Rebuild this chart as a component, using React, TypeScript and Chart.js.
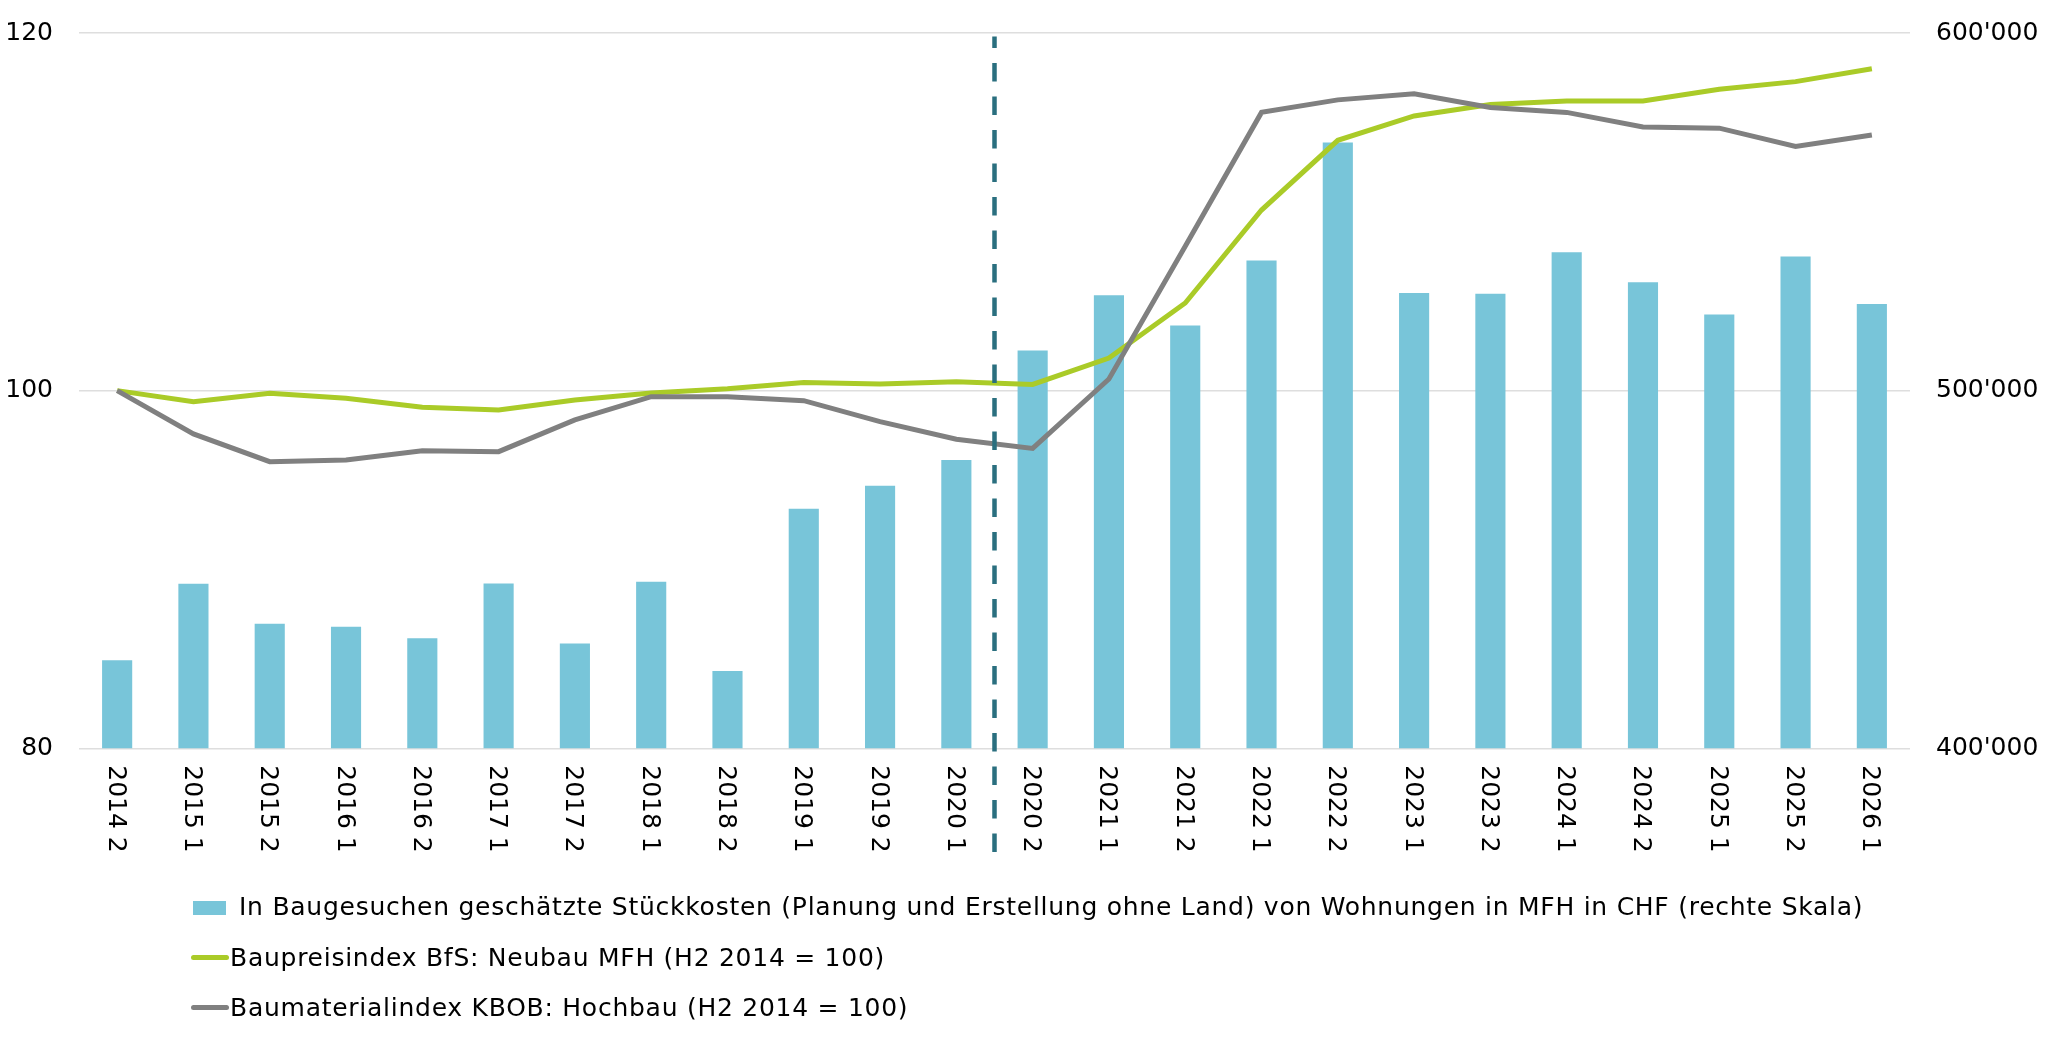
import { useEffect, useRef } from 'react';
import { Chart, registerables } from 'chart.js';

Chart.register(...registerables);

// Halbjahre (Jahr + Semester)
const periods = [
  '2014 2', '2015 1', '2015 2', '2016 1', '2016 2', '2017 1', '2017 2', '2018 1',
  '2018 2', '2019 1', '2019 2', '2020 1', '2020 2', '2021 1', '2021 2', '2022 1',
  '2022 2', '2023 1', '2023 2', '2024 1', '2024 2', '2025 1', '2025 2', '2026 1',
];

// Stückkosten in CHF (rechte Skala)
const unitCosts = [
  424600, 446000, 434800, 434000, 430800, 446100, 429300, 446600,
  421600, 467000, 473400, 480600, 511200, 526700, 518200, 536400,
  569400, 527300, 527100, 538700, 530300, 521300, 537500, 524200,
];

// Baupreisindex BfS (H2 2014 = 100)
const baupreisIndex = [
  100.0, 99.38, 99.85, 99.57, 99.07, 98.92, 99.48, 99.87,
  100.1, 100.45, 100.37, 100.5, 100.35, 101.82, 104.9, 110.1,
  114.0, 115.36, 116.0, 116.2, 116.2, 116.85, 117.28, 118.0,
];

// Baumaterialindex KBOB (H2 2014 = 100)
const baumaterialIndex = [
  100.0, 97.58, 96.03, 96.12, 96.64, 96.59, 98.36, 99.66,
  99.66, 99.44, 98.27, 97.28, 96.77, 100.65, 108.07, 115.56,
  116.26, 116.6, 115.83, 115.56, 114.74, 114.68, 113.65, 114.3,
];

const indexTicks = [80, 100, 120];
const costTicks = [400000, 500000, 600000];

// gestrichelte Linie zwischen diesen zwei Perioden
const dividerBefore = '2020 1';
const dividerAfter = '2020 2';

const legendLabels = [
  'In Baugesuchen geschätzte Stückkosten (Planung und Erstellung ohne Land) von Wohnungen in MFH in CHF (rechte Skala)',
  'Baupreisindex BfS: Neubau MFH (H2 2014 = 100)',
  'Baumaterialindex KBOB: Hochbau (H2 2014 = 100)',
];

const BAR_COLOR = '#78C5D9';
const GREEN = '#AACB28';
const GREY = '#808080';
const DIVIDER = '#2A6F7F';
const FONT = '"DejaVu Sans", Verdana, sans-serif';

const formatChf = (v: number) => String(v).replace(/\B(?=(\d{3})+(?!\d))/g, "'");

const periodAxisPlugin = {
  id: 'periodAxis',
  afterDraw(chart: Chart) {
    const { ctx, chartArea } = chart;
    const x = chart.scales.x;

    // Achsenbeschriftung, um 90° gedreht (von oben nach unten lesbar)
    ctx.save();
    ctx.font = `25px ${FONT}`;
    ctx.fillStyle = '#000';
    ctx.textAlign = 'left';
    ctx.textBaseline = 'middle';
    periods.forEach((p, i) => {
      ctx.save();
      ctx.translate(x.getPixelForValue(i) - 2, chartArea.bottom + 17);
      ctx.rotate(Math.PI / 2);
      ctx.fillText(p, 0, 0);
      ctx.restore();
    });
    ctx.restore();

    // Trennlinie
    const left = x.getPixelForValue(periods.indexOf(dividerBefore));
    const right = x.getPixelForValue(periods.indexOf(dividerAfter));
    const xd = (left + right) / 2;
    ctx.save();
    ctx.strokeStyle = DIVIDER;
    ctx.lineWidth = 4.5;
    ctx.setLineDash([18.5, 15]);
    ctx.lineDashOffset = 6.8;
    ctx.beginPath();
    ctx.moveTo(xd, chartArea.top + 3.4);
    ctx.lineTo(xd, chartArea.bottom + 104);
    ctx.stroke();
    ctx.restore();
  },
};

// feste Achsenbreite, ohne Zusatzabstand für die Beschriftung oben/unten
const fixWidth = (w: number) => (scale: any) => {
  scale.width = w;
  scale.paddingTop = 0;
  scale.paddingBottom = 0;
};

function CostChart() {
  const canvasRef = useRef<HTMLCanvasElement>(null);

  useEffect(() => {
    if (!canvasRef.current) return;

    const chart = new Chart(canvasRef.current, {
      type: 'bar',
      data: {
        labels: periods,
        datasets: [
          {
            type: 'line',
            label: legendLabels[2],
            data: baumaterialIndex,
            yAxisID: 'y',
            borderColor: GREY,
            borderWidth: 5,
            pointRadius: 0,
            tension: 0,
            order: 1,
          },
          {
            type: 'line',
            label: legendLabels[1],
            data: baupreisIndex,
            yAxisID: 'y',
            borderColor: GREEN,
            borderWidth: 5,
            pointRadius: 0,
            tension: 0,
            order: 2,
          },
          {
            type: 'bar',
            label: legendLabels[0],
            data: unitCosts,
            yAxisID: 'y1',
            backgroundColor: BAR_COLOR,
            barPercentage: 0.395,
            categoryPercentage: 1,
            order: 3,
          },
        ],
      },
      options: {
        responsive: false,
        animation: false,
        layout: { padding: { top: 33, left: 0, right: 0, bottom: 0 } },
        plugins: {
          legend: { display: false },
          tooltip: { enabled: false },
        },
        scales: {
          x: {
            grid: { display: false },
            border: { display: false },
            ticks: { display: false },
            afterFit: (scale: any) => { scale.height = 301.7; },
          },
          y: {
            position: 'left',
            min: indexTicks[0],
            max: indexTicks[indexTicks.length - 1],
            afterBuildTicks: (scale: any) => { scale.ticks = indexTicks.map(v => ({ value: v })); },
            grid: { color: '#DEDEDE', lineWidth: 1.5, drawTicks: false },
            border: { display: false },
            ticks: {
              color: '#000',
              padding: 26,
              font: { family: FONT, size: 25 },
            },
            afterFit: fixWidth(79),
          },
          y1: {
            position: 'right',
            min: costTicks[0],
            max: costTicks[costTicks.length - 1],
            afterBuildTicks: (scale: any) => { scale.ticks = costTicks.map(v => ({ value: v })); },
            grid: { display: false, drawTicks: false },
            border: { display: false },
            ticks: {
              color: '#000',
              padding: 26,
              font: { family: FONT, size: 25 },
              callback: (v: any) => formatChf(Number(v)),
            },
            afterFit: fixWidth(138),
          },
        },
      },
      plugins: [periodAxisPlugin],
    });

    return () => chart.destroy();
  }, []);

  return <canvas ref={canvasRef} width={2048} height={1050} style={{ display: 'block' }} />;
}

function Legend() {
  const text: React.CSSProperties = {
    position: 'absolute',
    fontFamily: FONT,
    fontSize: 25,
    lineHeight: '30px',
    letterSpacing: '0.74px',
    color: '#000',
    whiteSpace: 'nowrap',
  };
  return (
    <>
      <div style={{ position: 'absolute', left: 193, top: 901, width: 33, height: 14, background: BAR_COLOR }} />
      <div style={{ ...text, left: 239, top: 892 }}>{legendLabels[0]}</div>

      <div style={{ position: 'absolute', left: 191, top: 955, width: 38, height: 5, borderRadius: 2.5, background: GREEN }} />
      <div style={{ ...text, left: 230, top: 943 }}>{legendLabels[1]}</div>

      <div style={{ position: 'absolute', left: 191, top: 1005, width: 38, height: 5, borderRadius: 2.5, background: GREY }} />
      <div style={{ ...text, left: 230, top: 993 }}>{legendLabels[2]}</div>
    </>
  );
}

export default function App() {
  return (
    <div style={{ position: 'absolute', left: 0, top: 0, width: 2048, height: 1050, background: '#fff', overflow: 'hidden' }}>
      <CostChart />
      <Legend />
    </div>
  );
}
